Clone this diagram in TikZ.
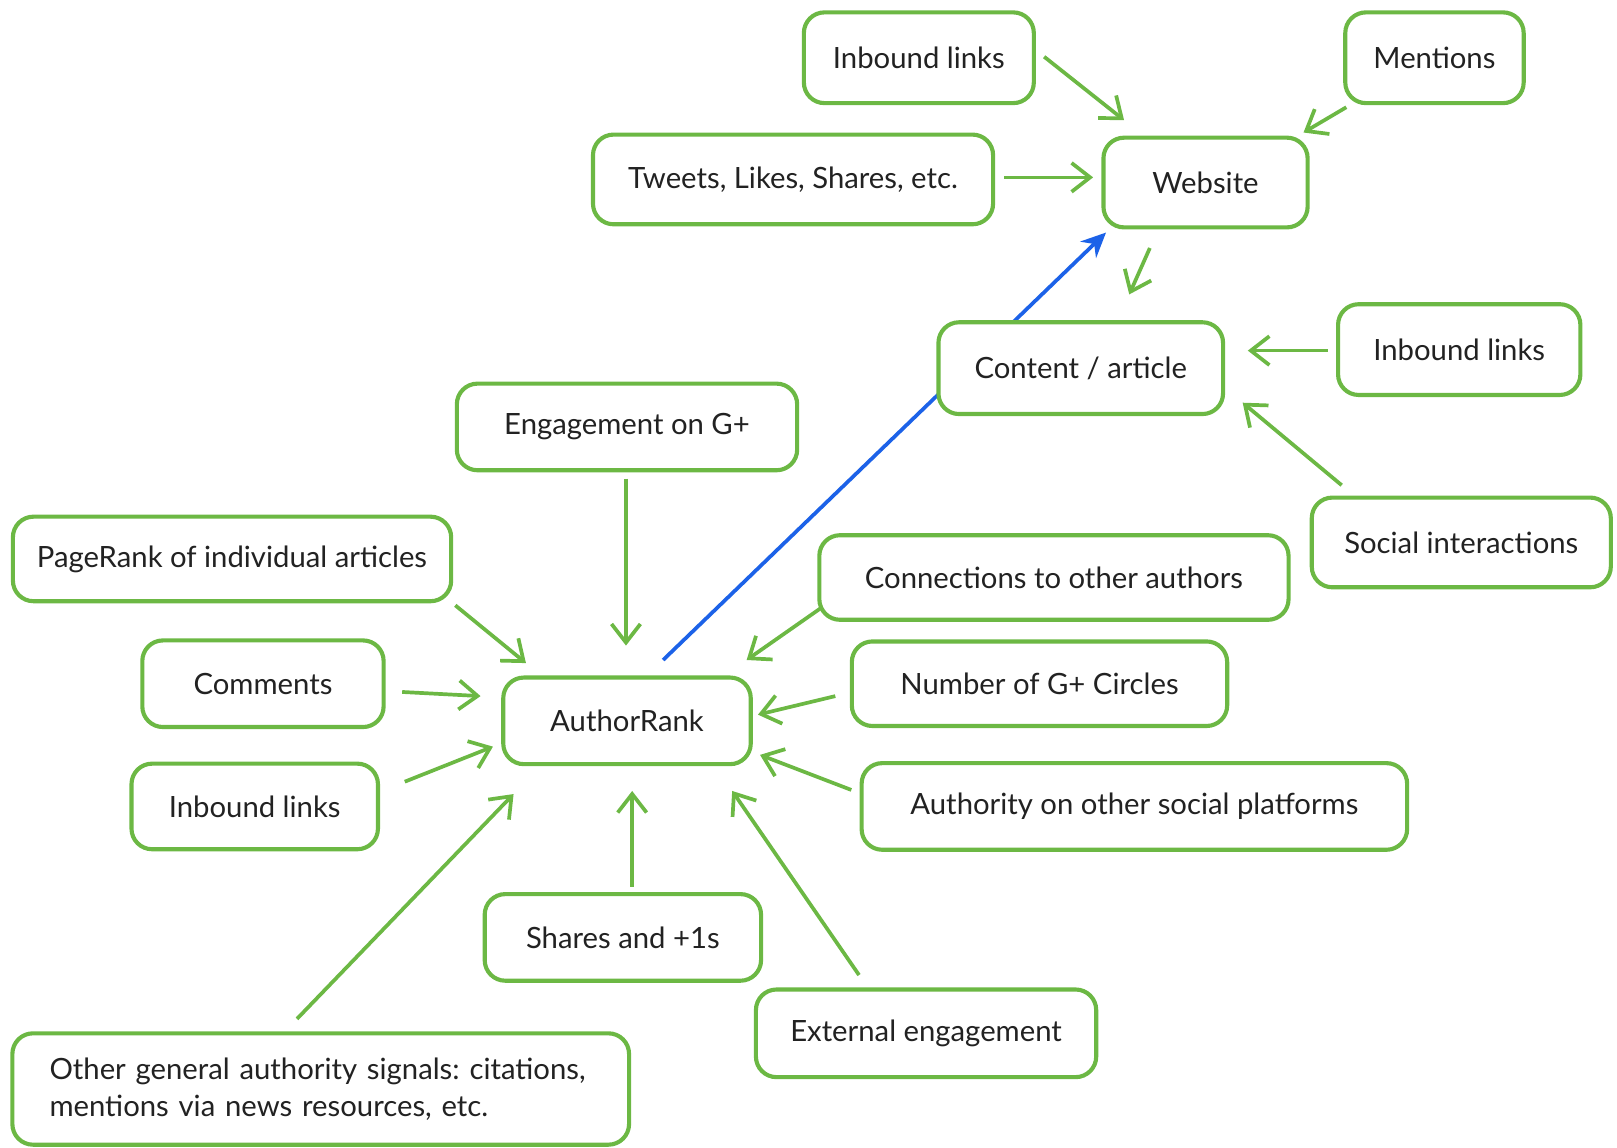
\documentclass[tikz,border=0pt]{standalone}
\usepackage{fontspec}
\setmainfont{Lato}
\frenchspacing
\usetikzlibrary{arrows.meta,calc}
\definecolor{boxgreen}{RGB}{108,184,68}
\definecolor{arrblue}{RGB}{28,98,232}
\definecolor{txt}{RGB}{34,34,34}
\tikzset{
  box/.style={draw=boxgreen, line width=2pt, rounded corners=10pt, fill=white,
    text=txt, font=\fontsize{14.2}{18}\selectfont, inner sep=0pt},
  garrow/.style={draw=boxgreen, line width=1.8pt,
    -{Straight Barb[length=9pt,width=14pt,line width=1.8pt]}},
  barrow/.style={draw=arrblue, line width=1.8pt,
    -{Stealth[length=12pt,width=11pt,inset=4pt]}}
}
\begin{document}
\begin{tikzpicture}[x=0.5pt,y=-0.5pt]
\useasboundingbox (0,0) rectangle (1568,1113);
% blue line first (drawn behind boxes)
\coordinate (authtop) at (608,657);
\coordinate (websw) at (1070.5,220.5);
\draw[barrow] ($(authtop)+(35,-17)$) -- ($(websw)+(2,5)$);
% nodes
\node[box, minimum width=111.5pt, minimum height=44pt] (inbt) at (891,56) {Inbound links};
\node[box, minimum width=86.5pt, minimum height=44pt] (ment) at (1391,56) {Mentions};
\node[box, minimum width=194pt, minimum height=43.5pt] (tweet) at (769,174) {Tweets, Likes, Shares, etc.};
\node[box, minimum width=99pt, minimum height=43.5pt] (web) at (1169,177) {Website};
\node[box, minimum width=138pt, minimum height=44.5pt] (cont) at (1048,357) {Content / article};
\node[box, minimum width=117.5pt, minimum height=44pt] (inbr) at (1415,339) {Inbound links};
\node[box, minimum width=145pt, minimum height=43.5pt] (soc) at (1417,526) {Social interactions};
\node[box, minimum width=165pt, minimum height=42pt] (eng) at (608,414) {Engagement on G+};
\node[box, minimum width=212.5pt, minimum height=41pt] (pr) at (225,542) {PageRank of individual articles};
\node[box, minimum width=227.5pt, minimum height=41pt] (conn) at (1022,560) {Connections to other authors};
\node[box, minimum width=117pt, minimum height=42pt] (comm) at (255,663) {Comments};
\node[box, minimum width=120pt, minimum height=42pt] (auth) at (608,699) {AuthorRank};
\node[box, minimum width=182pt, minimum height=41pt] (numg) at (1008,663) {Number of G+ Circles};
\node[box, minimum width=119.5pt, minimum height=41.5pt] (inbl) at (247,782) {Inbound links};
\node[box, minimum width=264.5pt, minimum height=42pt] (autho) at (1100,782) {Authority on other social platforms};
\node[box, minimum width=134pt, minimum height=42pt] (share) at (604,909) {Shares and +1s};
\node[box, minimum width=165pt, minimum height=42.5pt] (ext) at (898,1002) {External engagement};
\node[box, minimum height=54pt, text width=263pt, inner xsep=18pt, align=left] (oth) at (311,1056)
  {Other general authority signals: citations,\\ mentions via news resources, etc.};
% green arrows
\draw[garrow] ($(inbt.east)+(8,-1)$) -- ($(web.north west)+(22,-15)$);
\draw[garrow] ($(ment.south west)+(3,2)$) -- ($(web.north east)+(-6,-3)$);
\draw[garrow] ($(tweet.east)+(9,-2)$) -- ($(web.west)+(-8,-5)$);
\draw[garrow] ($(web.south)+(-54,18)$) -- ($(cont.north)+(47,-25)$);
\draw[garrow] ($(inbr.west)+(-8,1)$) -- ($(cont.east)+(22,-17)$);
\draw[garrow] ($(soc.north west)+(31,-10)$) -- ($(cont.south east)+(17,-13)$);
\draw[garrow] ($(eng.south)+(-1,6)$) -- ($(auth.north)+(-1,-29)$);
\draw[garrow] ($(pr.south east)+(2,2)$) -- ($(auth.north west)+(24,-12)$);
\draw[garrow] ($(conn.south west)+(3,-13)$) -- ($(auth.north east)+(-6,-15)$);
\draw[garrow] ($(comm.east)+(16,8)$) -- ($(auth.west)+(-20,-24)$);
\draw[garrow] ($(numg.west)+(-14,12)$) -- ($(auth.east)+(5,-6)$);
\draw[garrow] ($(inbl.east)+(24,-24)$) -- ($(auth.south west)+(-8,-19)$);
\draw[garrow] ($(autho.west)+(-8,-16)$) -- ($(auth.south east)+(7,-11)$);
\draw[garrow] ($(oth.north)+(-23,-12)$) -- ($(auth.south west)+(12,27)$);
\draw[garrow] ($(share.north)+(9,-5)$) -- ($(auth.south)+(5,24)$);
\draw[garrow] ($(ext.north)+(-65,-12)$) -- ($(auth.south east)+(-20,24)$);
\end{tikzpicture}
\end{document}
